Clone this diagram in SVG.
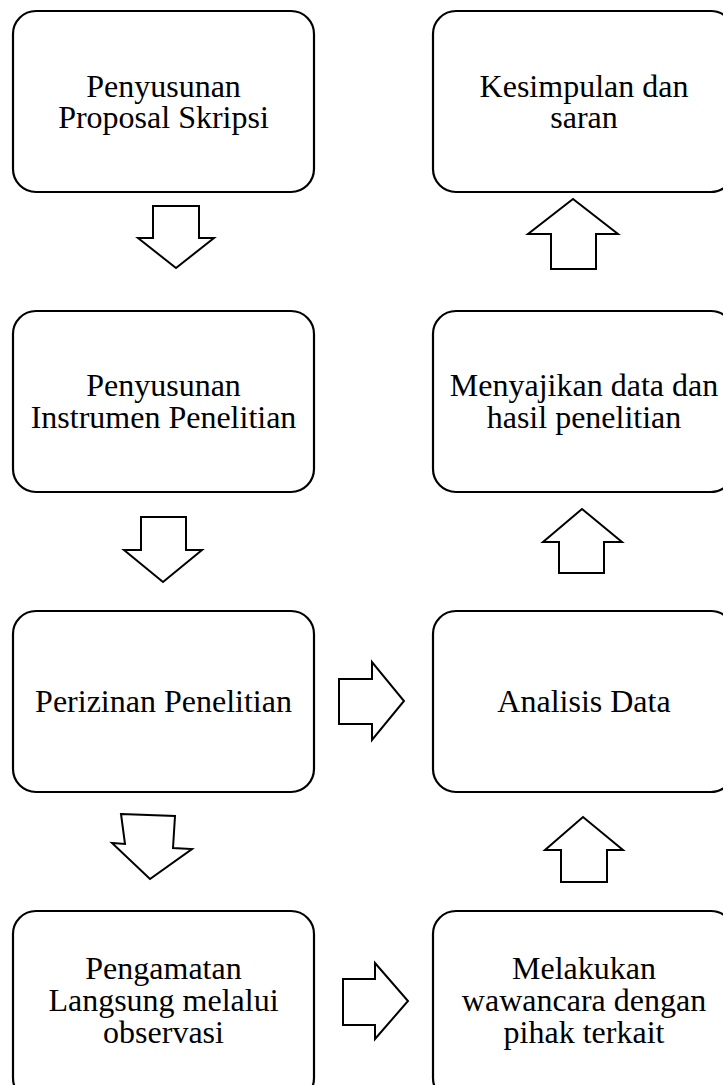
<svg xmlns="http://www.w3.org/2000/svg" width="723" height="1085" viewBox="0 0 723 1085">
<style>
.box{fill:#fff;stroke:#000;stroke-width:2.2}
.arr{fill:#fff;stroke:#000;stroke-width:2;stroke-linejoin:miter}
text{font-family:"Liberation Serif","Times New Roman",serif;font-size:32px;fill:#000;text-anchor:middle}
</style>
<rect width="723" height="1085" fill="#fff"/>
<g id="n1"><rect class="box" x="13" y="11" width="301" height="181" rx="23"/><text x="163.5" y="97">Penyusunan</text><text x="163.5" y="128">Proposal Skripsi</text></g>
<g id="n2"><rect class="box" x="13" y="311" width="301" height="181" rx="23"/><text x="163.5" y="396">Penyusunan</text><text x="163.5" y="428">Instrumen Penelitian</text></g>
<g id="n3"><rect class="box" x="13" y="611" width="301" height="181" rx="23"/><text x="163.5" y="712">Perizinan Penelitian</text></g>
<g id="n4"><rect class="box" x="13" y="911" width="301" height="190" rx="23"/><text x="163.5" y="979">Pengamatan</text><text x="163.5" y="1011">Langsung melalui</text><text x="163.5" y="1043">observasi</text></g>
<g id="n5"><rect class="box" x="433" y="911" width="301" height="190" rx="23"/><text x="584" y="979">Melakukan</text><text x="584" y="1011">wawancara dengan</text><text x="584" y="1043">pihak terkait</text></g>
<g id="n6"><rect class="box" x="433" y="611" width="301" height="181" rx="23"/><text x="584" y="712">Analisis Data</text></g>
<g id="n7"><rect class="box" x="433" y="311" width="301" height="181" rx="23"/><text x="584" y="396">Menyajikan data dan</text><text x="584" y="428">hasil penelitian</text></g>
<g id="n8"><rect class="box" x="433" y="11" width="301" height="181" rx="23"/><text x="584" y="97">Kesimpulan dan</text><text x="584" y="128">saran</text></g>
<g id="connectors">
<polygon class="arr" points="153,206 199,206 199,238 214,238 176,268 138,238 153,238"/>
<polygon class="arr" points="141,517 186,517 186,550 202,550 163,582 124,550 141,550"/>
<polygon class="arr" points="121,814 175,816 173,848 192,849 150,879 112,843 125,844"/>
<polygon class="arr" points="339,679 372,679 372,662 404,701 372,740 372,724 339,724"/>
<polygon class="arr" points="343,979 375,979 375,963 408,1001 375,1039 375,1025 343,1025"/>
<polygon class="arr" points="561,882 607,882 607,850 623,850 583,817 545,850 561,850"/>
<polygon class="arr" points="559,573 604,573 604,542 622,542 582,509 543,542 559,542"/>
<polygon class="arr" points="551,269 596,269 596,234 618,234 573,199 528,234 551,234"/>
</g>
</svg>
